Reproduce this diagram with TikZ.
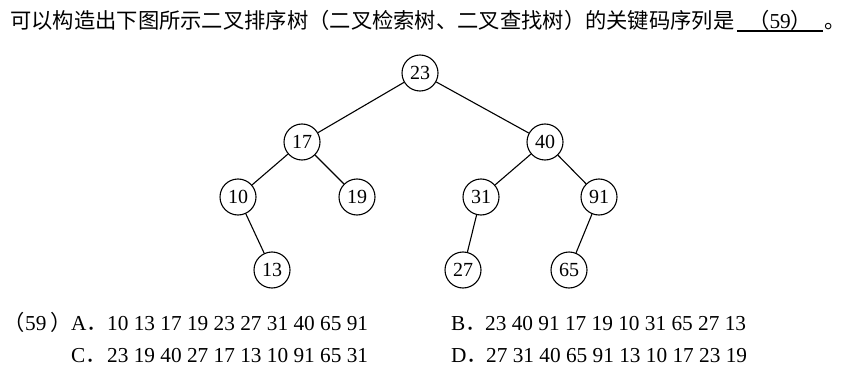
\documentclass[tikz,border=0pt]{standalone}
\usepackage{fontspec}
\setmainfont{Liberation Serif}
\newfontfamily\cjk{Noto Sans CJK SC}
\begin{document}
\begin{tikzpicture}[x=1pt,y=-1pt,
  keynode/.style={circle,draw,line width=1.1pt,minimum size=36pt,inner sep=0pt,font=\fontsize{20}{20}\selectfont},
  edge/.style={line width=1.1pt},
  txt/.style={inner sep=0pt,anchor=base west,font=\fontsize{21.3}{21.3}\selectfont}]
\useasboundingbox (0,0) rectangle (842,374);
% question line
\node[txt] (q) at (10,29) {\cjk 可以构造出下图所示二叉排序树（二叉检索树、二叉查找树）的关键码序列是};
\node[txt] (blank) at (748,29) {{\cjk （}59{\cjk ）}};
\node[txt] (stop) at (824,29) {\makebox[12pt][l]{\cjk 。}};
\draw[line width=1.8pt] (737,30.8) -- (823,30.8);
% tree
\node[keynode] (n23) at (420,73) {23};
\node[keynode] (n17) at (302,142) {17};
\node[keynode] (n40) at (545,142) {40};
\node[keynode] (n10) at (238,197) {10};
\node[keynode] (n19) at (357,197) {19};
\node[keynode] (n31) at (481,197) {31};
\node[keynode] (n91) at (599,197) {91};
\node[keynode] (n13) at (272,270) {13};
\node[keynode] (n27) at (463,270) {27};
\node[keynode] (n65) at (569,270) {65};
\draw[edge] (n23) -- (n17);
\draw[edge] (n23) -- (n40);
\draw[edge] (n17) -- (n10);
\draw[edge] (n17) -- (n19);
\draw[edge] (n40) -- (n31);
\draw[edge] (n40) -- (n91);
\draw[edge] (n10) -- (n13);
\draw[edge] (n31) -- (n27);
\draw[edge] (n91) -- (n65);
% options
\node[txt,anchor=base east] (ob) at (25,330) {\cjk （};
\node[txt] (on) at (25,330) {59};
\node[txt] (oc) at (50.5,330) {\cjk ）};
\node[txt] (la) at (71,330) {A{\cjk ．}};
\node[txt] (ta) at (107,330) {10 13 17 19 23 27 31 40 65 91};
\node[txt] (lb) at (451,330) {B{\cjk ．}};
\node[txt] (tb) at (485,330) {23 40 91 17 19 10 31 65 27 13};
\node[txt] (lc) at (71,362) {C{\cjk ．}};
\node[txt] (tc) at (107,362) {23 19 40 27 17 13 10 91 65 31};
\node[txt] (ld) at (451,362) {D{\cjk ．}};
\node[txt] (td) at (486,362) {27 31 40 65 91 13 10 17 23 19};
\end{tikzpicture}
\end{document}
